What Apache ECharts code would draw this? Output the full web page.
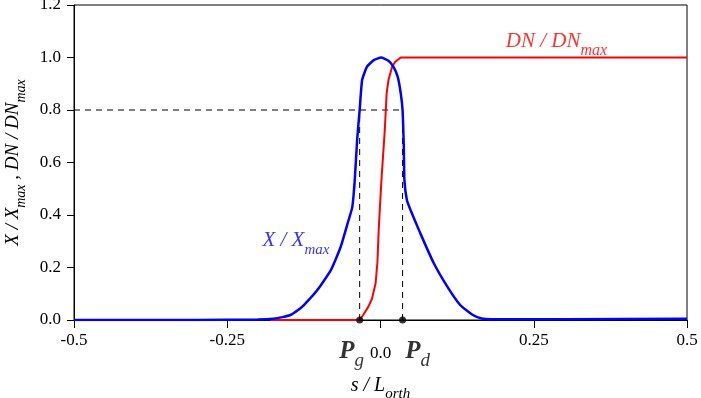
<!DOCTYPE html>
<html>
	<head>
		<meta charset="utf-8">
		<title>X / Xmax, DN / DNmax</title>
		<script src="https://cdn.jsdelivr.net/npm/echarts@6/dist/echarts.min.js"></script>
	</head>
	<body style="margin:0;">
		<div id="main" style="width: 701px; height: 398px;"></div>
		<script>
			// X / Xmax (blue)
			var sX = [-0.5, -0.3, -0.2, -0.175, -0.16, -0.147, -0.135, -0.125, -0.103, -0.081, -0.065, -0.052, -0.046, -0.042, -0.038, -0.034, -0.030, -0.022, -0.011, 0.001, 0.013, 0.021, 0.028, 0.033, 0.036, 0.038, 0.039, 0.043, 0.049, 0.065, 0.087, 0.109, 0.130, 0.15, 0.165, 0.18, 0.3, 0.5];
			var xRatio = [0, 0, 0.002, 0.005, 0.011, 0.019, 0.037, 0.057, 0.114, 0.19, 0.278, 0.381, 0.43, 0.533, 0.69, 0.8, 0.914, 0.965, 0.99, 1.0, 0.988, 0.965, 0.927, 0.864, 0.8, 0.66, 0.533, 0.457, 0.419, 0.33, 0.216, 0.127, 0.057, 0.02, 0.006, 0.003, 0.003, 0.005];
			// DN / DNmax (red)
			var sDN = [-0.18, -0.034, -0.028, -0.02, -0.014, -0.008, -0.005, -0.003, 0.0, 0.002, 0.007, 0.010, 0.013, 0.019, 0.024, 0.033, 0.5];
			var dnRatio = [0, 0, 0.02, 0.05, 0.08, 0.14, 0.22, 0.34, 0.47, 0.55, 0.724, 0.863, 0.914, 0.965, 0.984, 1.0, 1.0];
			// Pg, Pd positions and threshold
			var pg = -0.034, pd = 0.036, level = 0.8;

			var zip = function(a, b){ return a.map(function(v, i){ return [v, b[i]]; }); };
			var serif = '"Liberation Serif", "DejaVu Serif", serif';
			var sub = function(color, big, small){
				return {
					i: {fontFamily: serif, fontStyle: 'italic', fontSize: big, color: color, verticalAlign: 'top', lineHeight: big + 6},
					sub: {fontFamily: serif, fontStyle: 'italic', fontSize: small, color: color, verticalAlign: 'bottom', lineHeight: big + 6}
				};
			};

			var mychart = echarts.init(document.getElementById('main'));
			var option = {
				backgroundColor: '#fff',
				animation: false,
				grid: {left: 74, right: 14, top: 5, bottom: 78, outerBoundsMode: 'none', containLabel: false,
					show: true, borderColor: '#000', borderWidth: 1},
				xAxis: {
					type: 'value', min: -0.5, max: 0.5, interval: 0.25,
					splitLine: {show: false},
					axisLine: {onZero: false, lineStyle: {color: '#000'}},
					axisTick: {lineStyle: {color: '#000'}, length: 8},
					axisLabel: {
						color: '#000', fontFamily: serif, fontSize: 17, margin: 12,
						formatter: function(v){
							if (v === 0) return '{z|0.0}';
							return String(v);
						},
						rich: {z: {fontFamily: serif, fontSize: 17, color: '#000', padding: [13, 0, 0, 0]}}
					},
					name: '{i|s / L}{sub|orth}',
					nameLocation: 'middle', nameGap: 56,
					nameTextStyle: {rich: sub('#000', 20, 15)}
				},
				yAxis: {
					type: 'value', min: 0, max: 1.2, interval: 0.2,
					splitLine: {show: false},
					axisLine: {show: true, onZero: false, lineStyle: {color: '#000'}},
					axisTick: {show: true, lineStyle: {color: '#000'}, length: 7},
					axisLabel: {
						color: '#000', fontFamily: serif, fontSize: 17, margin: 13,
						formatter: function(v){ return v.toFixed(1); }
					},
					name: '{i|X / X}{sub|max}{i| , DN / DN}{sub|max}',
					nameLocation: 'middle', nameGap: 46, nameRotate: 90,
					nameTextStyle: {rich: sub('#000', 19, 14)}
				},
				series: [
					{
						name: 'guide-h', type: 'line', symbol: 'none', silent: true,
						data: [[-0.5, level], [pd, level]],
						lineStyle: {color: '#000', width: 1, type: [6, 5]}
					},
					{
						name: 'guide-g', type: 'line', symbol: 'none', silent: true,
						data: [[pg, 0], [pg, level]],
						lineStyle: {color: '#000', width: 1, type: [6, 5]}
					},
					{
						name: 'guide-d', type: 'line', symbol: 'none', silent: true,
						data: [[pd, 0], [pd, level]],
						lineStyle: {color: '#000', width: 1, type: [6, 5]}
					},
					{
						name: 'DN / DNmax', type: 'line', symbol: 'none',
						data: zip(sDN, dnRatio),
						lineStyle: {color: '#ff0000', width: 2}
					},
					{
						name: 'X / Xmax', type: 'line', symbol: 'none', smooth: 0.15,
						data: zip(sX, xRatio),
						lineStyle: {color: '#0000ff', width: 2.5}
					},
					{
						name: 'points', type: 'scatter', symbol: 'circle', symbolSize: 7,
						itemStyle: {color: '#000'}, z: 5,
						data: [
							{value: [pg, 0], label: {formatter: '{p|P}{s|g}', offset: [-8, 11]}},
							{value: [pd, 0], label: {formatter: '{p|P}{s|d}', offset: [15, 11]}}
						],
						label: {
							show: true, position: 'bottom',
							rich: {
								p: {fontFamily: serif, fontStyle: 'italic', fontWeight: 'bold', fontSize: 25, color: '#000', verticalAlign: 'top', lineHeight: 31},
								s: {fontFamily: serif, fontStyle: 'italic', fontSize: 19, color: '#000', verticalAlign: 'bottom', lineHeight: 31}
							}
						}
					},
					{
						name: 'text-x', type: 'scatter', symbolSize: 0, silent: true,
						data: [[-0.138, 0.29]],
						label: {show: true, position: 'inside', formatter: '{i|X / X}{sub|max}', rich: sub('#0000ff', 21, 15)}
					},
					{
						name: 'text-dn', type: 'scatter', symbolSize: 0, silent: true,
						data: [[0.287, 1.048]],
						label: {show: true, position: 'inside', formatter: '{i|DN / DN}{sub|max}', rich: sub('#ff0000', 21, 16)}
					}
				]
			};
			mychart.setOption(option);
		</script>
	</body>
</html>
